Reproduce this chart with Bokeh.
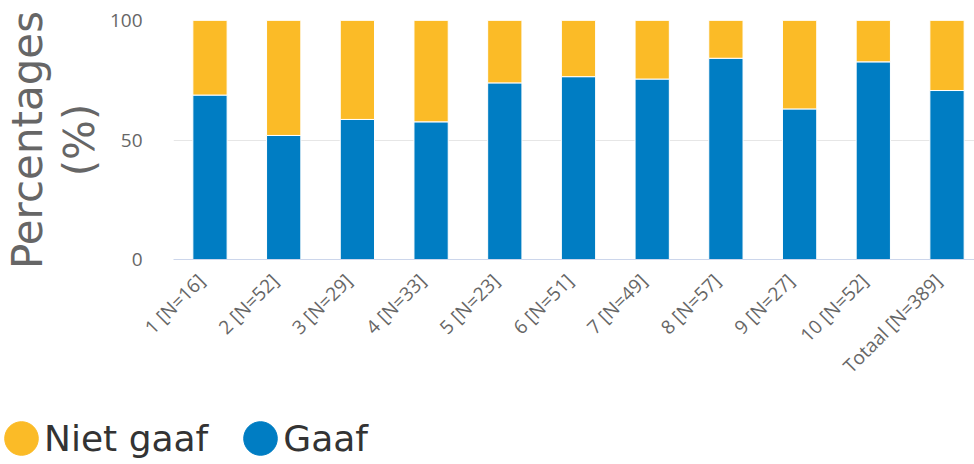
import math
from bokeh.plotting import figure
from bokeh.layouts import column
from bokeh.models import Range1d, FixedTicker, Legend, LegendItem, ColumnDataSource
from bokeh.embed import file_html
from bokeh.resources import INLINE

categories = ["1 [N=16]", "2 [N=52]", "3 [N=29]", "4 [N=33]", "5 [N=23]", "6 [N=51]",
              "7 [N=49]", "8 [N=57]", "9 [N=27]", "10 [N=52]", "Totaal [N=389]"]
gaaf = [68.8, 51.9, 58.6, 57.6, 73.9, 76.5, 75.5, 84.2, 63.0, 82.7, 70.7]
niet_gaaf = [31.2, 48.1, 41.4, 42.4, 26.1, 23.5, 24.5, 15.8, 37.0, 17.3, 29.3]
series_names = ["Niet gaaf", "Gaaf"]
y_ticks = [0, 50, 100]

BLUE = "#007dc3"
YELLOW = "#fbbb27"

xpos = list(range(len(categories)))
source = ColumnDataSource(dict(x=xpos, gaaf=gaaf, niet=niet_gaaf,
                               bottom2=gaaf, top2=[g + n for g, n in zip(gaaf, niet_gaaf)]))

p = figure(width=974, height=400,
           x_range=Range1d(-0.495, 10.373), y_range=Range1d(0, 100),
           output_backend="svg", toolbar_location=None,
           min_border_left=173, min_border_right=0, min_border_top=20, min_border_bottom=141)
p.frame_align = False

p.vbar(x="x", bottom=0, top="gaaf", width=0.465, source=source,
       fill_color=BLUE, line_color="white", line_width=1)
p.vbar(x="x", bottom="bottom2", top="top2", width=0.465, source=source,
       fill_color=YELLOW, line_color="white", line_width=1)

p.outline_line_color = None
p.xgrid.grid_line_color = None
p.ygrid.grid_line_color = "#e6e6e6"
p.ygrid.ticker = FixedTicker(ticks=y_ticks)

# rotated labels: anchor their visual end on the bar centre
label_shift = 0.12
tick_pos = [x - label_shift for x in xpos]
p.xaxis.ticker = FixedTicker(ticks=tick_pos)
p.xaxis.major_label_overrides = {t: c for t, c in zip(tick_pos, categories)}
p.xaxis.major_label_orientation = math.pi / 4
p.xaxis.axis_line_color = "#ccd6eb"
p.xaxis.major_tick_line_color = None
p.xaxis.minor_tick_line_color = None
p.xaxis.major_label_text_font = "Open Sans"
p.xaxis.major_label_text_font_size = "19px"
p.xaxis.major_label_text_color = "#666666"
p.xaxis.major_label_standoff = 12

p.yaxis.ticker = FixedTicker(ticks=y_ticks)
p.yaxis.axis_line_color = None
p.yaxis.major_tick_line_color = None
p.yaxis.minor_tick_line_color = None
p.yaxis.major_label_text_font = "Open Sans"
p.yaxis.major_label_text_font_size = "19px"
p.yaxis.major_label_text_color = "#666666"
p.yaxis.major_label_standoff = 25
p.yaxis.axis_label = "Percentages\n(%)"
p.yaxis.axis_label_text_font = "DejaVu Sans"
p.yaxis.axis_label_text_font_size = "42px"
p.yaxis.axis_label_text_font_style = "normal"
p.yaxis.axis_label_text_color = "#666666"
p.yaxis.axis_label_text_line_height = 1.05
p.yaxis.axis_label_standoff = 3

# legend in its own strip below the chart
lg = figure(width=974, height=64, x_range=Range1d(0, 1), y_range=Range1d(0, 1),
            output_backend="svg", toolbar_location=None,
            x_axis_type=None, y_axis_type=None,
            min_border_left=0, min_border_right=0, min_border_top=0, min_border_bottom=0)
lg.frame_align = False
lg.outline_line_color = None
lg.xgrid.visible = False
lg.ygrid.visible = False
r_niet = lg.ellipse(x=[float("nan")], y=[float("nan")], width=10, height=10,
                    width_units="screen", height_units="screen",
                    fill_color=YELLOW, line_color=YELLOW)
r_gaaf = lg.ellipse(x=[float("nan")], y=[float("nan")], width=10, height=10,
                    width_units="screen", height_units="screen",
                    fill_color=BLUE, line_color=BLUE)
legend = Legend(items=[LegendItem(label=series_names[0], renderers=[r_niet]),
                       LegendItem(label=series_names[1], renderers=[r_gaaf])],
                orientation="horizontal", location=(0, 5),
                glyph_width=42, glyph_height=42, label_standoff=2, spacing=31,
                padding=0, margin=0,
                label_text_font="DejaVu Sans", label_text_font_size="36px",
                label_text_color="#333333",
                background_fill_alpha=0, border_line_color=None)
lg.add_layout(legend, "center")

layout = column(p, lg, spacing=0)
open("out.html", "w").write(file_html(layout, INLINE))
